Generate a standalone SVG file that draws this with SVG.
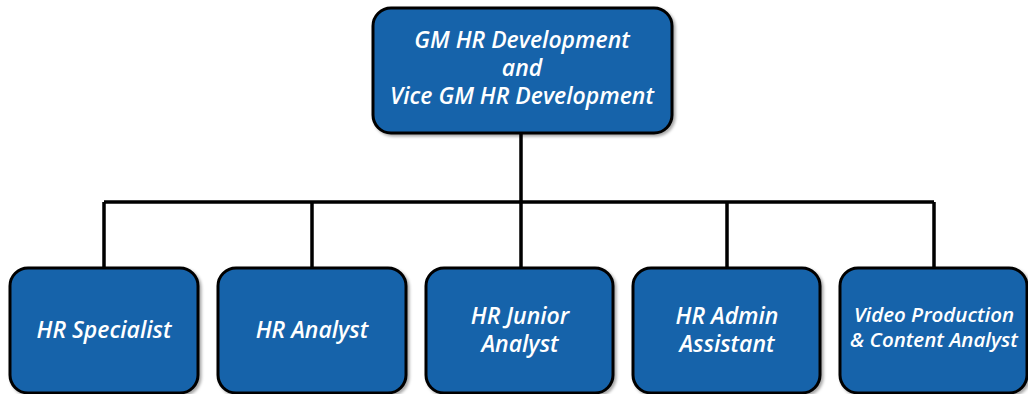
<svg xmlns="http://www.w3.org/2000/svg" width="1028" height="394" viewBox="0 0 1028 394">
<style>
.box{fill:#1764AA;stroke:#000;stroke-width:3}
.t{fill:#fff;font-family:"Open Sans",sans-serif;font-style:italic;font-weight:600;font-size:23px;text-anchor:middle}
.s{font-size:20.5px}
.c{fill:none;stroke:#000;stroke-width:3.5}
</style>
<defs>
<filter id="sh" x="-10%" y="-10%" width="130%" height="130%"><feDropShadow dx="2" dy="2" stdDeviation="1.5" flood-color="#000" flood-opacity="0.35"/></filter>
</defs>
<g id="connectors">
<path class="c" d="M521 133V202M104 202H934M104 202V268M312 202V268M521 202V268M727 202V268M934 202V268"/>
</g>
<g id="n0"><rect class="box" filter="url(#sh)" x="373" y="8" width="299" height="125" rx="18"/>
<text class="t" x="522" y="48">GM HR Development</text>
<text class="t" x="522" y="76">and</text>
<text class="t" x="522" y="104">Vice GM HR Development</text></g>
<g id="n1"><rect class="box" filter="url(#sh)" x="10" y="268" width="188" height="125" rx="18"/>
<text class="t" x="104" y="338">HR Specialist</text></g>
<g id="n2"><rect class="box" filter="url(#sh)" x="218" y="268" width="188" height="125" rx="18"/>
<text class="t" x="312" y="338">HR Analyst</text></g>
<g id="n3"><rect class="box" filter="url(#sh)" x="426" y="268" width="187" height="125" rx="18"/>
<text class="t" x="520" y="324">HR Junior</text>
<text class="t" x="520" y="352">Analyst</text></g>
<g id="n4"><rect class="box" filter="url(#sh)" x="633" y="268" width="187" height="125" rx="18"/>
<text class="t" x="727" y="324">HR Admin</text>
<text class="t" x="727" y="352">Assistant</text></g>
<g id="n5"><rect class="box" filter="url(#sh)" x="840" y="268" width="187" height="125" rx="18"/>
<text class="t s" x="934" y="322">Video Production</text>
<text class="t s" x="934" y="347">&amp; Content Analyst</text></g>
</svg>
